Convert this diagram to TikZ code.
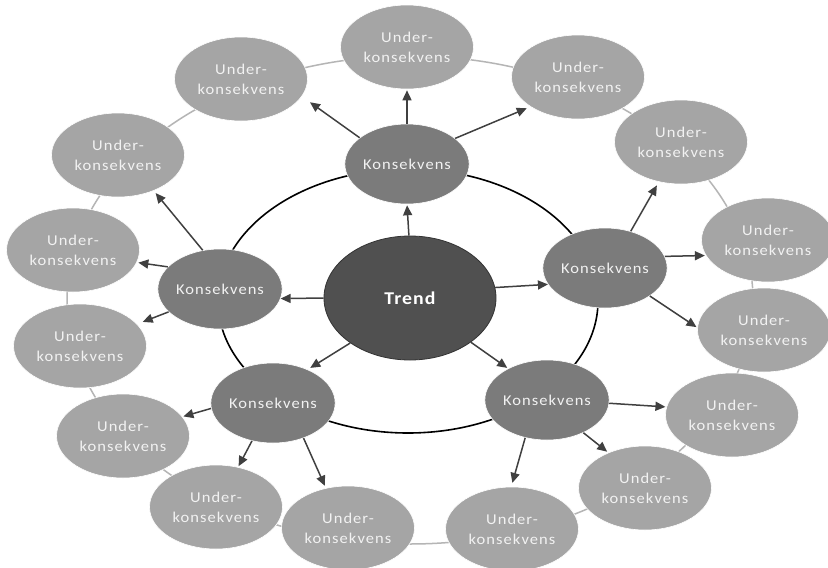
\documentclass[tikz,border=0pt]{standalone}
\usepackage{fontspec}
\newfontfamily\labfont[FakeStretch=1.1,LetterSpace=7]{Carlito}
\newfontfamily\trendfont[FakeStretch=1.1,LetterSpace=6]{Carlito}
\usetikzlibrary{shapes.geometric,arrows.meta}
\definecolor{trendgray}{HTML}{505050}
\definecolor{kgray}{HTML}{7B7B7B}
\definecolor{ugray}{HTML}{A5A5A5}
\definecolor{ringgray}{HTML}{B5B5B5}
\definecolor{arrowgray}{HTML}{404040}
\definecolor{txt}{HTML}{F2F2F2}
\begin{document}
\begin{tikzpicture}[x=1pt,y=-1pt,
 trendnode/.style={ellipse, fill=trendgray, draw=black!80, line width=0.8pt,
   minimum width=172pt, minimum height=124pt, inner sep=0pt, text=white,
   font=\trendfont\bfseries\fontsize{18}{22}\selectfont},
 konnode/.style={ellipse, fill=kgray, draw=white, line width=0.6pt,
   minimum width=122pt, minimum height=80pt, inner sep=0pt, text=txt,
   font=\labfont\fontsize{15}{20}\selectfont},
 undnode/.style={ellipse, fill=ugray, draw=white, line width=0.6pt,
   minimum width=133pt, minimum height=84pt, inner sep=0pt, text=txt, align=center,
   font=\labfont\fontsize{15}{20}\selectfont},
 arr/.style={draw=arrowgray, line width=1.5pt, -{Triangle[length=10pt,width=9pt]}},
 outerring/.style={draw=ringgray, line width=1.5pt},
 innerring/.style={draw=black, line width=1.6pt},
]
\useasboundingbox (0,0) rectangle (828,568);
\fill[white] (0,0) rectangle (828,568);
% rings
\coordinate (oc) at (410,300);
\coordinate (ic) at (408,301);
\draw[outerring] (oc) ellipse [x radius=343, y radius=244];
\draw[innerring] (ic) ellipse [x radius=190, y radius=132];
% nodes
\node[trendnode] (trend) at (410,298) {Trend};
\node[konnode] (kt) at (407,164) {Konsekvens};
\node[konnode] (kr) at (605,268) {Konsekvens};
\node[konnode] (kl) at (220,289) {Konsekvens};
\node[konnode] (kbl) at (273,403) {Konsekvens};
\node[konnode] (kbr) at (547,400) {Konsekvens};
\node[undnode] (u1) at (407,47) {Under-\\konsekvens};
\node[undnode] (u2) at (241,79) {Under-\\konsekvens};
\node[undnode] (u3) at (118,155) {Under-\\konsekvens};
\node[undnode] (u4) at (73,250) {Under-\\konsekvens};
\node[undnode] (u5) at (80,346) {Under-\\konsekvens};
\node[undnode] (u6) at (123,436) {Under-\\konsekvens};
\node[undnode] (u7) at (216,507) {Under-\\konsekvens};
\node[undnode] (u8) at (348,528) {Under-\\konsekvens};
\node[undnode] (u9) at (512,529) {Under-\\konsekvens};
\node[undnode] (u10) at (645,488) {Under-\\konsekvens};
\node[undnode] (u11) at (732,415) {Under-\\konsekvens};
\node[undnode] (u12) at (764,330) {Under-\\konsekvens};
\node[undnode] (u13) at (768,240) {Under-\\konsekvens};
\node[undnode] (u14) at (681,142) {Under-\\konsekvens};
\node[undnode] (u15) at (578,77) {Under-\\konsekvens};
% trend arrows
\draw[arr, shorten >=1pt] (trend.91) -- (kt.-90);
\draw[arr] (trend.7) -- (kr.196);
\draw[arr] (trend.180) -- (kl.-9);
\draw[arr, shorten >=3pt] (trend.-143) -- (kbl.44);
\draw[arr, shorten >=1pt] (trend.-36) -- (kbr.141);
% consequence arrows
\draw[arr, shorten >=1pt] (kt.90) -- (u1.-90);
\draw[arr, shorten >=10pt] (kt.151) -- (u2.-16);
\draw[arr, shorten >=4pt] (kt.28) -- (u15.-148);
\draw[arr, shorten >=4pt] (kr.55) -- (u14.-119);
\draw[arr, shorten >=1pt] (kr.11) -- (u13.-166);
\draw[arr, shorten >=1pt] (kr.-32) -- (u12.178);
\draw[arr, shorten >=1pt] (kbr.-3) -- (u11.173);
\draw[arr, shorten >=1.5pt] (kbr.-42) -- (u10.136);
\draw[arr, shorten >=4pt] (kbr.-120) -- (u9.91);
\draw[arr, shorten >=1pt] (kbl.185) -- (u6.18);
\draw[arr, shorten >=1pt] (kbl.-119) -- (u7.61);
\draw[arr, shorten >=2.5pt] (kbl.-49) -- (u8.119);
\draw[arr, shorten >=3pt] (kl.114) -- (u3.-45);
\draw[arr, shorten >=1.5pt] (kl.157) -- (u4.-11);
\draw[arr, shorten >=6pt] (kl.204) -- (u5.21);
\end{tikzpicture}
\end{document}
